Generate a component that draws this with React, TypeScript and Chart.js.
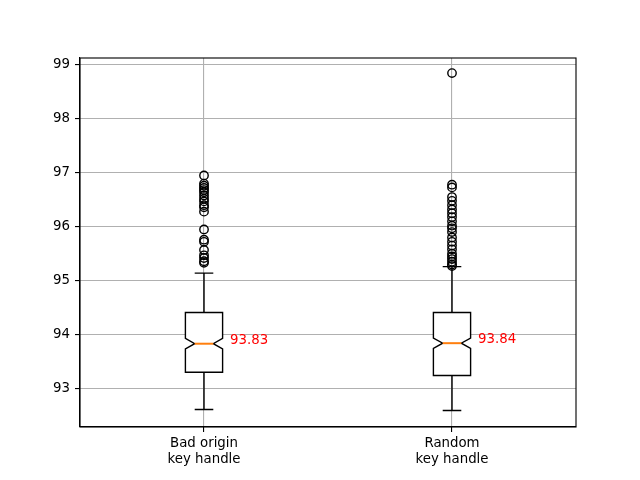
import React, { useEffect, useRef } from "react";
import { Chart, registerables } from "chart.js";

Chart.register(...registerables);

const categories: string[][] = [["Bad origin", "key handle"], ["Random", "key handle"]];
const positions = [1, 2];
const medians = [93.83, 93.84];
const q1 = [93.3, 93.24];
const q3 = [94.41, 94.41];
const whiskerLow = [92.61, 92.59];
const whiskerHigh = [95.14, 95.26];
const notchLow = [93.735, 93.745];
const notchHigh = [93.93, 93.935];
const yTicks = [93, 94, 95, 96, 97, 98, 99];

const outliers1 = [
  96.95, 96.8, 96.76, 96.72, 96.68, 96.64, 96.58, 96.52, 96.47, 96.4, 96.36, 96.28,
  95.95, 95.76, 95.72, 95.57, 95.47, 95.42, 95.36, 95.33,
];
const outliers2 = [
  98.85, 96.78, 96.73, 96.55, 96.48, 96.4, 96.32, 96.25, 96.18, 96.1, 96.02, 95.97,
  95.9, 95.8, 95.72, 95.65, 95.58, 95.5, 95.45, 95.4, 95.35, 95.3, 95.27,
];

const FONT = '"DejaVu Sans", sans-serif';

const boxPlugin = {
  id: "boxPlugin",
  afterDatasetsDraw(chart: any) {
    const { ctx, scales, chartArea } = chart;
    const xs = scales.x;
    const ys = scales.y;
    ctx.save();
    positions.forEach((p, i) => {
      const half = 0.075;
      const L = xs.getPixelForValue(p - half);
      const R = xs.getPixelForValue(p + half);
      const Li = xs.getPixelForValue(p - half / 2);
      const Ri = xs.getPixelForValue(p + half / 2);
      const C = xs.getPixelForValue(p);
      const cL = xs.getPixelForValue(p - half / 2);
      const cR = xs.getPixelForValue(p + half / 2);
      const yq1 = ys.getPixelForValue(q1[i]);
      const yq3 = ys.getPixelForValue(q3[i]);
      const ym = ys.getPixelForValue(medians[i]);
      const ylo = ys.getPixelForValue(notchLow[i]);
      const yhi = ys.getPixelForValue(notchHigh[i]);
      const wl = ys.getPixelForValue(whiskerLow[i]);
      const wh = ys.getPixelForValue(whiskerHigh[i]);

      ctx.strokeStyle = "#000";
      ctx.lineWidth = 1.39;
      ctx.beginPath();
      ctx.moveTo(C, yq1);
      ctx.lineTo(C, wl);
      ctx.moveTo(C, yq3);
      ctx.lineTo(C, wh);
      ctx.moveTo(cL, wl);
      ctx.lineTo(cR, wl);
      ctx.moveTo(cL, wh);
      ctx.lineTo(cR, wh);
      ctx.stroke();

      ctx.beginPath();
      ctx.moveTo(L, yq1);
      ctx.lineTo(R, yq1);
      ctx.lineTo(R, ylo);
      ctx.lineTo(Ri, ym);
      ctx.lineTo(R, yhi);
      ctx.lineTo(R, yq3);
      ctx.lineTo(L, yq3);
      ctx.lineTo(L, yhi);
      ctx.lineTo(Li, ym);
      ctx.lineTo(L, ylo);
      ctx.closePath();
      ctx.fillStyle = "#fff";
      ctx.fill();
      ctx.stroke();

      ctx.strokeStyle = "#ff7f0e";
      ctx.lineWidth = 2;
      ctx.beginPath();
      ctx.moveTo(Li, ym);
      ctx.lineTo(Ri, ym);
      ctx.stroke();

      ctx.fillStyle = "#ff0000";
      ctx.font = `13.33px ${FONT}`;
      ctx.textAlign = "left";
      ctx.textBaseline = "alphabetic";
      ctx.fillText(medians[i].toFixed(2), xs.getPixelForValue(p + 0.105), ym);
    });
    ctx.strokeStyle = "#000";
    ctx.lineWidth = 1.11;
    ctx.strokeRect(chartArea.left, chartArea.top, chartArea.right - chartArea.left, chartArea.bottom - chartArea.top);
    ctx.restore();
  },
};

export default function App() {
  const ref = useRef<HTMLCanvasElement>(null);
  useEffect(() => {
    if (!ref.current) return;
    const pointStyle = {
      pointStyle: "circle" as const,
      pointRadius: 4.2,
      pointBorderColor: "#000",
      pointBackgroundColor: "rgba(0,0,0,0)",
      pointBorderWidth: 1.4,
    };
    const chart = new Chart(ref.current, {
      type: "scatter",
      data: {
        datasets: [
          { data: outliers1.map((v) => ({ x: positions[0], y: v })), ...pointStyle },
          { data: outliers2.map((v) => ({ x: positions[1], y: v })), ...pointStyle },
        ],
      },
      options: {
        animation: false,
        responsive: false,
        devicePixelRatio: 1,
        layout: { padding: { left: 0, right: 64, top: 58, bottom: 0 } },
        plugins: { legend: { display: false }, tooltip: { enabled: false } },
        scales: {
          x: {
            type: "linear",
            min: 0.5,
            max: 2.5,
            afterBuildTicks: (s: any) => {
              s.ticks = positions.map((v) => ({ value: v }));
            },
            afterFit: (s: any) => {
              s.height = 53;
            },
            grid: { color: "#b0b0b0", lineWidth: 1.11, tickColor: "#000", tickLength: 5 },
            border: { color: "#000", width: 1.11 },
            ticks: {
              color: "#000",
              font: { family: FONT, size: 13.33, lineHeight: 1.18 },
              padding: 4,
              maxRotation: 0,
              callback: (v: any) => categories[positions.indexOf(Number(v))] as any,
            },
          },
          y: {
            type: "linear",
            min: 92.285,
            max: 99.13,
            afterBuildTicks: (s: any) => {
              s.ticks = yTicks.map((v) => ({ value: v }));
            },
            afterFit: (s: any) => {
              s.width = 80;
            },
            grid: { color: "#b0b0b0", lineWidth: 1.11, tickColor: "#000", tickLength: 5 },
            border: { color: "#000", width: 1.11 },
            ticks: {
              color: "#000",
              font: { family: FONT, size: 13.33 },
              padding: 5,
              callback: (v: any) => String(v),
            },
          },
        },
      },
      plugins: [boxPlugin],
    });
    return () => chart.destroy();
  }, []);
  return (
    <div style={{ position: "fixed", left: 0, top: 0, width: 640, height: 480, background: "#fff" }}>
      <canvas ref={ref} width={640} height={480} />
    </div>
  );
}
